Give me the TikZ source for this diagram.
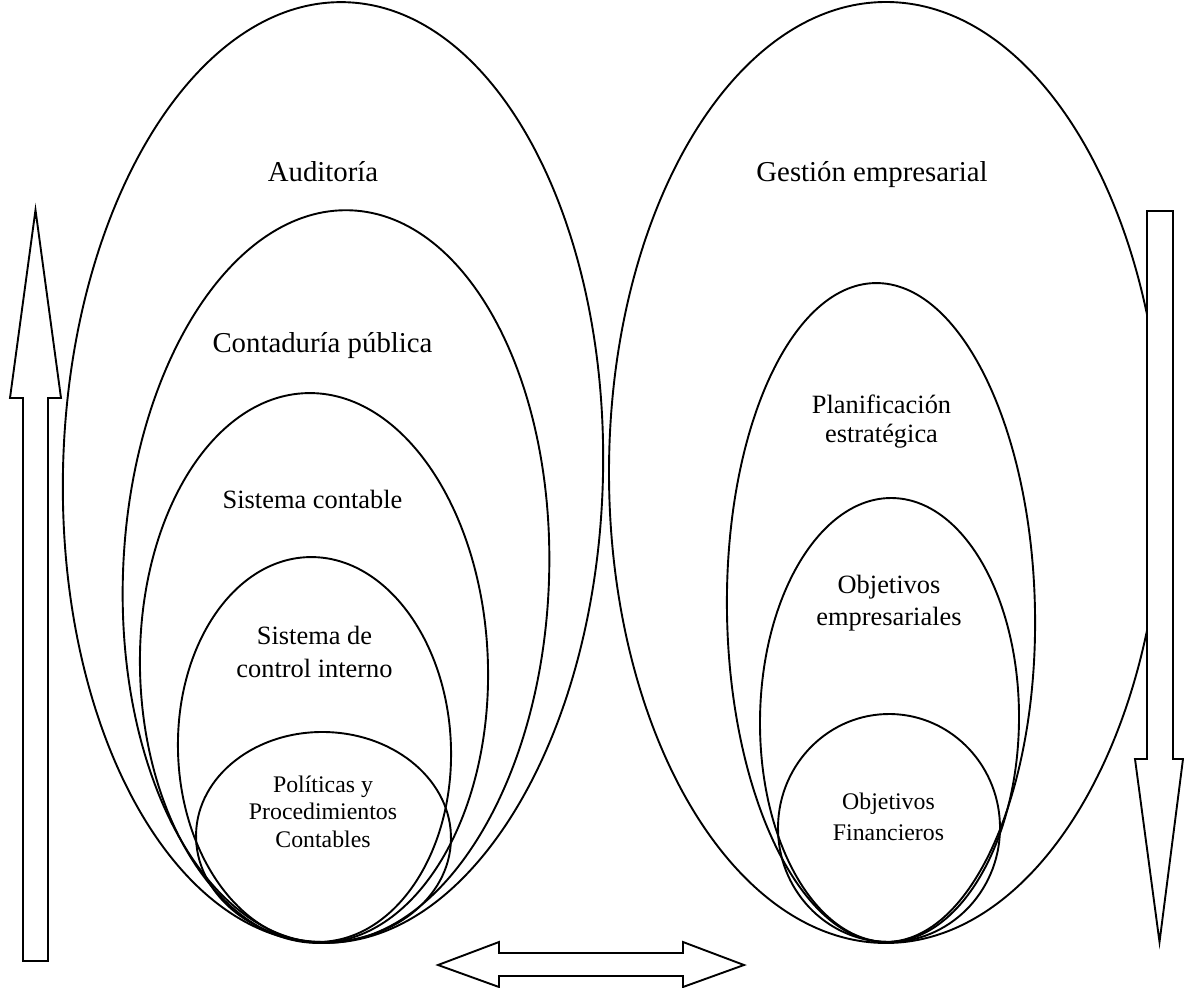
\documentclass[tikz,border=0pt]{standalone}
\usepackage{fontspec}
\setmainfont{Liberation Serif}
\begin{document}
\begin{tikzpicture}[x=1pt,y=-1pt,
  ring/.style={draw=black,line width=1.9pt},
  arrowshape/.style={draw=black,line width=1.9pt,line join=miter,fill=white},
  label/.style={anchor=base,inner sep=0pt},
  bigtxt/.style={label,font=\fontsize{28.8}{33}\selectfont},
  midtxt/.style={label,font=\fontsize{26.4}{#1}\selectfont},
  smalltxt/.style={label,font=\fontsize{23.8}{#1}\selectfont}]
\useasboundingbox (0,0) rectangle (1184,988);

% left family of nested ellipses, all meeting at the bottom
\draw[ring,rotate around={-1.46:(333,472.5)}] (333,472.5) ellipse [x radius=270pt, y radius=470.5pt];
\draw[ring,rotate around={-2.35:(336,576.5)}] (336,576.5) ellipse [x radius=213pt, y radius=366.5pt];
\draw[ring,rotate around={1.46:(314,668)}] (314,668) ellipse [x radius=174pt, y radius=275pt];
\draw[ring,rotate around={1.93:(314.5,749.5)}] (314.5,749.5) ellipse [x radius=136.5pt, y radius=192.5pt];
\draw[ring,rotate around={-1.36:(323.5,837)}] (323.5,837) ellipse [x radius=127.5pt, y radius=105pt];

% right family of nested ellipses
\draw[ring] (886,472.5) ellipse [x radius=277pt, y radius=470.5pt];
\draw[ring,rotate around={1.04:(881,612.5)}] (881,612.5) ellipse [x radius=154pt, y radius=329.5pt];
\draw[ring,rotate around={-0.65:(889.5,720)}] (889.5,720) ellipse [x radius=129.5pt, y radius=222pt];
\draw[ring,rotate around={-1:(889,828)}] (889,828) ellipse [x radius=111pt, y radius=114pt];

% labels
\node[bigtxt] (aud) at (323,181) {Auditoría};
\node[bigtxt] (cont) at (322.5,352) {Contaduría pública};
\node[midtxt=30] (sist) at (312.5,508) {Sistema contable};
\node[midtxt=33] (sci) at (314.5,644) {\begin{tabular}[t]{@{}c@{}}Sistema de\\control interno\end{tabular}};
\node[smalltxt=27.5] (pol) at (323,792) {\begin{tabular}[t]{@{}c@{}}Políticas y\\Procedimientos\\Contables\end{tabular}};

\node[bigtxt] (gest) at (872,181) {Gestión empresarial};
\node[midtxt=29] (plan) at (881.5,413) {\begin{tabular}[t]{@{}c@{}}Planificación\\estratégica\end{tabular}};
\node[midtxt=32] (oemp) at (889,593) {\begin{tabular}[t]{@{}c@{}}Objetivos\\empresariales\end{tabular}};
\node[smalltxt=31] (ofin) at (888.5,809) {\begin{tabular}[t]{@{}c@{}}Objetivos\\Financieros\end{tabular}};

% block arrows
\draw[arrowshape] (23,961) -- (23,398) -- (10,398) -- (35.5,210) -- (61,398)
  -- (48,398) -- (48,961) -- cycle;
\draw[arrowshape] (1147,211) -- (1173,211) -- (1173,759) -- (1183,759)
  -- (1159.5,942) -- (1135,759) -- (1147,759) -- cycle;
\draw[arrowshape] (438,965) -- (499,942) -- (499,953) -- (683,953) -- (683,942)
  -- (744,965) -- (683,987) -- (683,976) -- (499,976) -- (499,987) -- cycle;
\end{tikzpicture}
\end{document}
